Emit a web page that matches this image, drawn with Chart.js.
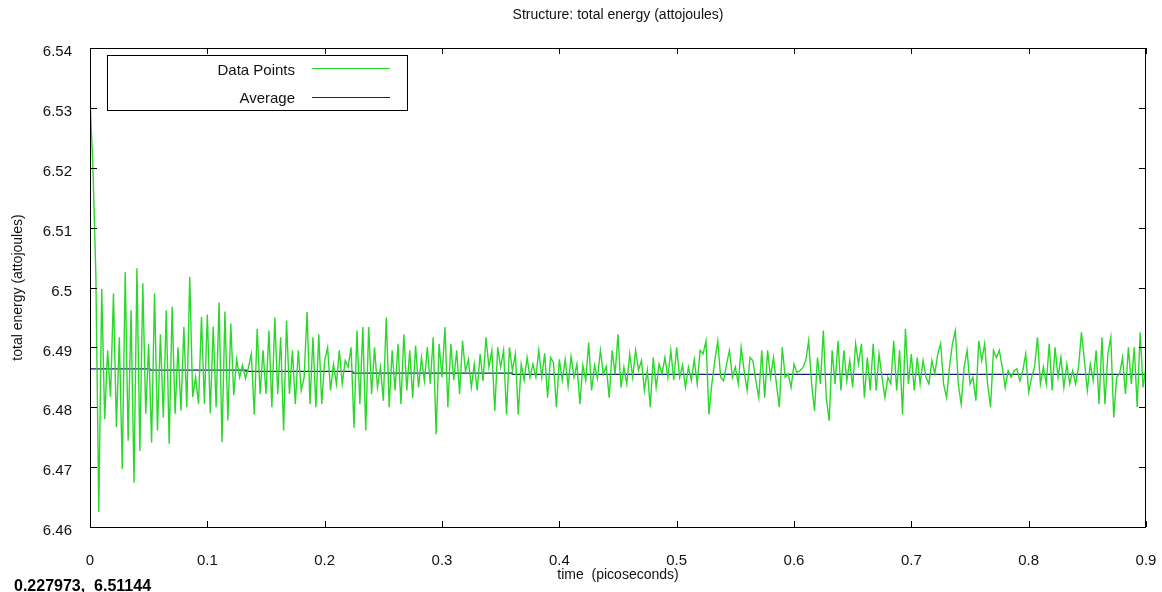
<!DOCTYPE html>
<html>
<head>
<meta charset="utf-8">
<script src="https://cdn.jsdelivr.net/npm/chart.js@4.4.1/dist/chart.umd.min.js"></script>
<style>
html, body { margin: 0; padding: 0; background: #fff; }
</style>
</head>
<body>
<canvas id="myChart" width="1162" height="592"></canvas>
<script>
// total energy (attojoules), one sample every 0.0025 ps
var energy = [
    6.5317, 6.5200, 6.5020, 6.4625, 6.4998, 6.4780, 6.4895, 6.4817, 6.4990, 6.4767,
    6.4917, 6.4697, 6.5026, 6.4744, 6.4962, 6.4674, 6.5032, 6.4727, 6.5007, 6.4789,
    6.4906, 6.4741, 6.4990, 6.4761, 6.4922, 6.4783, 6.4962, 6.4739, 6.4968, 6.4789,
    6.4900, 6.4794, 6.4934, 6.4800, 6.5018, 6.4817, 6.4850, 6.4806, 6.4951, 6.4806,
    6.4955, 6.4790, 6.4935, 6.4800, 6.4975, 6.4742, 6.4960, 6.4778, 6.4940, 6.4820,
    6.4880, 6.4850, 6.4870, 6.4848, 6.4866,
    6.4889, 6.4788, 6.4931, 6.4822, 6.4895, 6.4822, 6.4928, 6.4800, 6.4950, 6.4822,
    6.4917, 6.4761, 6.4945, 6.4822, 6.4895, 6.4805, 6.4895, 6.4828, 6.4850, 6.4959,
    6.4805, 6.4917, 6.4800, 6.4922, 6.4805, 6.4878, 6.4900, 6.4828, 6.4872, 6.4839,
    6.4895, 6.4839, 6.4878, 6.4867, 6.4900, 6.4766, 6.4928, 6.4805, 6.4934, 6.4761,
    6.4934, 6.4822, 6.4900, 6.4833, 6.4867, 6.4811, 6.4950, 6.4800, 6.4895, 6.4828,
    6.4906, 6.4805,
    6.4922, 6.4828, 6.4895, 6.4816, 6.4903, 6.4833, 6.4883, 6.4844, 6.4900, 6.4839,
    6.4917, 6.4755, 6.4906, 6.4850, 6.4934, 6.4800, 6.4906, 6.4845, 6.4895, 6.4822,
    6.4911, 6.4860, 6.4880, 6.4833, 6.4872, 6.4828, 6.4889, 6.4844, 6.4917, 6.4867,
    6.4895, 6.4794, 6.4900, 6.4867, 6.4895, 6.4788, 6.4900, 6.4861, 6.4889, 6.4788,
    6.4872, 6.4845, 6.4883, 6.4850, 6.4872, 6.4850, 6.4895, 6.4850, 6.4890, 6.4816,
    6.4883,
    6.4875, 6.4800, 6.4880, 6.4845, 6.4880, 6.4835, 6.4885, 6.4850, 6.4872, 6.4805,
    6.4870, 6.4845, 6.4908, 6.4828, 6.4870, 6.4848, 6.4895, 6.4855, 6.4868, 6.4816,
    6.4895, 6.4855, 6.4922, 6.4833, 6.4867, 6.4839, 6.4889, 6.4850, 6.4895, 6.4862,
    6.4878, 6.4828, 6.4862, 6.4800, 6.4883, 6.4833, 6.4872, 6.4856, 6.4883, 6.4850,
    6.4895, 6.4845, 6.4900, 6.4850, 6.4870, 6.4833, 6.4867, 6.4845, 6.4880, 6.4839,
    6.4895,
    6.4889, 6.4911, 6.4788, 6.4839, 6.4878, 6.4911, 6.4850, 6.4844, 6.4872, 6.4895,
    6.4850, 6.4867, 6.4839, 6.4900, 6.4861, 6.4828, 6.4883, 6.4878, 6.4844, 6.4816,
    6.4895, 6.4816, 6.4895, 6.4850, 6.4883, 6.4839, 6.4800, 6.4900, 6.4850, 6.4856,
    6.4833, 6.4872, 6.4858, 6.4861, 6.4866, 6.4878, 6.4911, 6.4839, 6.4794, 6.4883,
    6.4839, 6.4928, 6.4816, 6.4777, 6.4895, 6.4839, 6.4911, 6.4828, 6.4895, 6.4844,
    6.4878, 6.4833,
    6.4906, 6.4872, 6.4906, 6.4816, 6.4883, 6.4828, 6.4906, 6.4828, 6.4889, 6.4850,
    6.4816, 6.4850, 6.4839, 6.4911, 6.4828, 6.4895, 6.4788, 6.4931, 6.4839, 6.4889,
    6.4828, 6.4883, 6.4839, 6.4878, 6.4850, 6.4839, 6.4878, 6.4856, 6.4889, 6.4906,
    6.4839, 6.4816, 6.4867, 6.4906, 6.4928, 6.4839, 6.4805, 6.4867, 6.4895, 6.4839,
    6.4850, 6.4811, 6.4911, 6.4878, 6.4906, 6.4839, 6.4800, 6.4895, 6.4883, 6.4895,
    6.4867,
    6.4833, 6.4861, 6.4850, 6.4861, 6.4864, 6.4844, 6.4861, 6.4889, 6.4825, 6.4850,
    6.4867, 6.4917, 6.4839, 6.4867, 6.4839, 6.4906, 6.4828, 6.4900, 6.4850, 6.4883,
    6.4833, 6.4872, 6.4839, 6.4861, 6.4839, 6.4867, 6.4925, 6.4878, 6.4828, 6.4872,
    6.4844, 6.4895, 6.4805, 6.4917, 6.4805, 6.4889, 6.4917, 6.4783, 6.4850, 6.4856,
    6.4883, 6.4822, 6.4900, 6.4839, 6.4900, 6.4800, 6.4925, 6.4833, 6.4867
];
var timeStep = 0.0025;

// running average, changes in small steps
var avgTime = [0, 0.051, 0.133, 0.224, 0.36, 0.733, 0.9];
var avgEnergy = [6.4867, 6.4864, 6.4862, 6.4860, 6.4857, 6.4855, 6.4855];

var xTicks = [0, 0.1, 0.2, 0.3, 0.4, 0.5, 0.6, 0.7, 0.8, 0.9];
var yTicks = [6.46, 6.47, 6.48, 6.49, 6.5, 6.51, 6.52, 6.53, 6.54];

var chartTitle = 'Structure: total energy (attojoules)';
var readout = '0.227973,  6.51144';
var seriesNames = ['Data Points', 'Average'];
var green = '#2ad82a';
var blue = '#1c1c78';

var points = energy.map(function (e, i) { return { x: i * timeStep, y: e }; });
var avgPoints = avgEnergy.map(function (e, i) { return { x: avgTime[i], y: e }; });

// frame, inward ticks, legend box, title and the cursor readout
var decor = {
    id: 'decor',
    afterDatasetsDraw: function (chart) {
        var c = chart.ctx, a = chart.chartArea;
        var xs = chart.scales.x, ys = chart.scales.y;
        c.save();
        c.strokeStyle = '#000';
        c.lineWidth = 1;
        c.strokeRect(Math.round(a.left) + 0.5, Math.round(a.top) + 0.5,
            Math.round(a.right - a.left) - 1, Math.round(a.bottom - a.top));
        c.beginPath();
        xTicks.forEach(function (v) {
            var p = Math.round(xs.getPixelForValue(v)) + 0.5;
            c.moveTo(p, a.bottom); c.lineTo(p, a.bottom - 6);
            c.moveTo(p, a.top); c.lineTo(p, a.top + 6);
        });
        yTicks.forEach(function (v) {
            var p = Math.round(ys.getPixelForValue(v)) + 0.5;
            c.moveTo(a.left, p); c.lineTo(a.left + 7, p);
            c.moveTo(a.right, p); c.lineTo(a.right - 7, p);
        });
        c.stroke();

        // legend
        c.fillStyle = '#fff';
        c.fillRect(107, 55, 300, 55);
        c.strokeRect(107.5, 55.5, 300, 55);
        c.font = '15px "Liberation Sans", Arial, sans-serif';
        c.fillStyle = '#111';
        c.textAlign = 'right';
        c.textBaseline = 'middle';
        c.fillText(seriesNames[0], 295, 71);
        c.fillText(seriesNames[1], 295, 99);
        c.lineWidth = 1.2;
        c.strokeStyle = green;
        c.beginPath(); c.moveTo(312, 68.5); c.lineTo(390, 68.5); c.stroke();
        c.strokeStyle = blue;
        c.beginPath(); c.moveTo(312, 97.5); c.lineTo(390, 97.5); c.stroke();

        // title
        c.textAlign = 'center';
        c.font = '14px "Liberation Sans", Arial, sans-serif';
        c.fillText(chartTitle, (a.left + a.right) / 2, 15);

        // readout
        c.textAlign = 'left';
        c.textBaseline = 'alphabetic';
        c.font = 'bold 16px "Liberation Sans", Arial, sans-serif';
        c.fillStyle = '#000';
        c.fillText(readout, 14, 591);
        c.restore();
    }
};

var tickFont = { family: '"Liberation Sans", Arial, sans-serif', size: 15 };
var titleFont = { family: '"Liberation Sans", Arial, sans-serif', size: 14 };

var ctx = document.getElementById('myChart').getContext('2d');
var chart = new Chart(ctx, {
    type: 'line',

    data: {
        datasets: [
            {
                label: seriesNames[0],
                data: points,
                borderColor: green,
                borderWidth: 1.4,
                pointRadius: 0,
                tension: 0
            },
            {
                label: seriesNames[1],
                data: avgPoints,
                borderColor: blue,
                borderWidth: 1.3,
                pointRadius: 0,
                stepped: 'after'
            }
        ]
    },

    options: {
        responsive: false,
        animation: false,
        devicePixelRatio: 1,
        layout: { padding: { top: 48, right: 16, left: 0, bottom: 0 } },
        plugins: {
            legend: { display: false },
            tooltip: { enabled: false }
        },
        scales: {
            x: {
                type: 'linear',
                min: 0,
                max: 0.9,
                afterFit: function (s) {
                    s.height = 65;
                    s.paddingLeft = 0;
                    s.paddingRight = 0;
                },
                afterBuildTicks: function (s) { s.ticks = xTicks.map(function (v) { return { value: v }; }); },
                grid: { display: false, drawTicks: false },
                border: { display: false },
                ticks: {
                    font: tickFont,
                    color: '#111',
                    padding: 25,
                    maxRotation: 0,
                    autoSkip: false,
                    callback: function (v) { return String(+v.toFixed(1)); }
                },
                title: {
                    display: true,
                    text: 'time  (picoseconds)',
                    font: titleFont,
                    color: '#111',
                    padding: { top: 0, bottom: 8 }
                }
            },
            y: {
                min: 6.46,
                max: 6.54,
                afterFit: function (s) {
                    s.width = 90;
                    s.paddingTop = 0;
                    s.paddingBottom = 0;
                },
                afterBuildTicks: function (s) { s.ticks = yTicks.map(function (v) { return { value: v }; }); },
                grid: { display: false, drawTicks: false },
                border: { display: false },
                ticks: {
                    font: tickFont,
                    color: '#111',
                    padding: 18,
                    labelOffset: 4,
                    autoSkip: false,
                    callback: function (v) { return String(+v.toFixed(2)); }
                },
                title: {
                    display: true,
                    text: 'total energy (attojoules)',
                    font: titleFont,
                    color: '#111',
                    padding: { top: 10, bottom: 0 }
                }
            }
        }
    },

    plugins: [decor]
});
</script>
</body>
</html>
